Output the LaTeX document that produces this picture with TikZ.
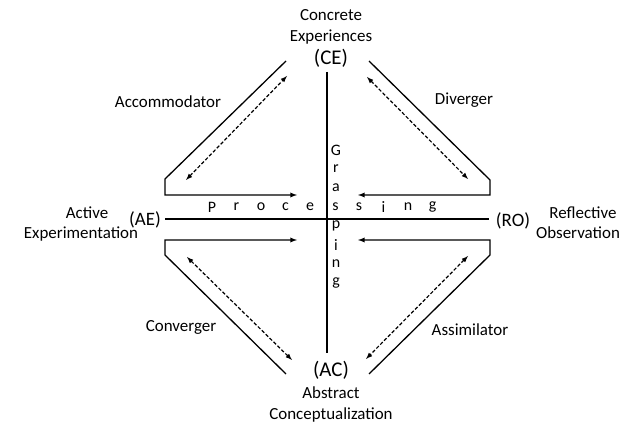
\documentclass[tikz,border=0pt]{standalone}
\usepackage{fontspec}
\setmainfont{Carlito}
\begin{document}
\begin{tikzpicture}[>=latex,line join=miter,
    word/.style={inner sep=0pt,font=\fontsize{17}{21}\selectfont,align=center},
    mode/.style={inner sep=1pt,font=\fontsize{21}{24}\selectfont},
    letter/.style={inner sep=0pt,font=\fontsize{16}{18}\selectfont},
    bar/.style={line width=1.3bp},
    cycle arrow/.style={line width=1.2bp,dash pattern=on 3.5bp off 2bp,<->},]
    %%
    \useasboundingbox (0bp,0bp) rectangle (624bp,425bp);
    \node (Concrete) at (331.0bp,410.0bp) [word] {Concrete};
    \node (Experiences) at (331.0bp,388.0bp) [word] {Experiences};
    \node (CE) at (331.0bp,367.0bp) [mode] {(CE)};
    \node (AC) at (331.0bp,55.0bp) [mode] {(AC)};
    \node (Abstract) at (331.0bp,32.0bp) [word] {Abstract};
    \node (Conceptualization) at (331.0bp,10.0bp) [word] {Conceptualization};
    \node (Active) at (87.0bp,212.0bp) [word] {Active};
    \node (Experimentation) at (81.0bp,191.0bp) [word] {Experimentation};
    \node (AE) at (145.0bp,205.0bp) [mode,inner sep=0pt,font=\fontsize{19}{22}\selectfont] {(AE)};
    \node (RO) at (513.0bp,204.0bp) [mode,font=\fontsize{19}{22}\selectfont] {(RO)};
    \node (Reflective) at (583.0bp,212.0bp) [word] {Reflective};
    \node (Observation) at (578.0bp,192.0bp) [word] {Observation};
    \node (Accommodator) at (168.0bp,323.0bp) [word] {Accommodator};
    \node (Diverger) at (464.0bp,325.0bp) [word] {Diverger};
    \node (Converger) at (181.0bp,98.0bp) [word] {Converger};
    \node (Assimilator) at (470.0bp,95.0bp) [word] {Assimilator};
    %
    \node (p1) at (212.0bp,218.0bp) [letter] {P};
    \node (p2) at (236.5bp,218.0bp) [letter] {r};
    \node (p3) at (261.0bp,218.0bp) [letter] {o};
    \node (p4) at (285.5bp,218.0bp) [letter] {c};
    \node (p5) at (310.0bp,218.0bp) [letter] {e};
    \node (p6) at (335.5bp,218.0bp) [letter] {s};
    \node (p7) at (359.0bp,218.0bp) [letter] {s};
    \node (p8) at (383.5bp,218.0bp) [letter] {i};
    \node (p9) at (408.0bp,218.0bp) [letter] {n};
    \node (p10) at (432.5bp,218.0bp) [letter] {g};
    \node (g1) at (336.0bp,275.0bp) [letter] {G};
    \node (g2) at (336.0bp,256.0bp) [letter] {r};
    \node (g3) at (336.0bp,237.0bp) [letter] {a};
    \node (g5) at (336.0bp,199.0bp) [letter] {p};
    \node (g6) at (336.0bp,180.0bp) [letter] {i};
    \node (g7) at (336.0bp,161.0bp) [letter] {n};
    \node (g8) at (336.0bp,142.0bp) [letter] {g};
    %
    \coordinate (top) at (327.0bp,353.0bp);
    \coordinate (bot) at (327.0bp,72.0bp);
    \coordinate (west) at (165.0bp,206.0bp);
    \coordinate (east) at (489.0bp,206.0bp);
    \coordinate (ul1) at (286.0bp,364.0bp);
    \coordinate (ul2) at (165.0bp,246.0bp);
    \coordinate (ul3) at (165.0bp,230.0bp);
    \coordinate (ul4) at (297.0bp,230.0bp);
    \coordinate (ur1) at (369.0bp,364.0bp);
    \coordinate (ur2) at (490.0bp,245.0bp);
    \coordinate (ur3) at (490.0bp,230.0bp);
    \coordinate (ur4) at (358.0bp,230.0bp);
    \coordinate (ll1) at (286.0bp,51.0bp);
    \coordinate (ll2) at (165.0bp,170.0bp);
    \coordinate (ll3) at (165.0bp,185.0bp);
    \coordinate (ll4) at (297.0bp,185.0bp);
    \coordinate (lr1) at (369.0bp,51.0bp);
    \coordinate (lr2) at (490.0bp,170.0bp);
    \coordinate (lr3) at (490.0bp,185.0bp);
    \coordinate (lr4) at (358.0bp,185.0bp);
    \coordinate (uld1) at (186.0bp,245.0bp);
    \coordinate (uld2) at (287.0bp,349.0bp);
    \coordinate (urd1) at (367.0bp,348.0bp);
    \coordinate (urd2) at (468.0bp,246.0bp);
    \coordinate (lld1) at (187.0bp,168.0bp);
    \coordinate (lld2) at (292.0bp,65.0bp);
    \coordinate (lrd1) at (468.0bp,169.0bp);
    \coordinate (lrd2) at (366.0bp,66.0bp);
    %
    \draw [bar] (top) -- (bot);
    \draw [bar] (west) -- (east);
    \draw [bar,->] (ul1) -- (ul2) -- (ul3) -- (ul4);
    \draw [bar,->] (ur1) -- (ur2) -- (ur3) -- (ur4);
    \draw [bar,->] (ll1) -- (ll2) -- (ll3) -- (ll4);
    \draw [bar,->] (lr1) -- (lr2) -- (lr3) -- (lr4);
    \draw [cycle arrow] (uld1) -- (uld2);
    \draw [cycle arrow] (urd1) -- (urd2);
    \draw [cycle arrow] (lld1) -- (lld2);
    \draw [cycle arrow] (lrd1) -- (lrd2);
    %
\end{tikzpicture}
\end{document}
